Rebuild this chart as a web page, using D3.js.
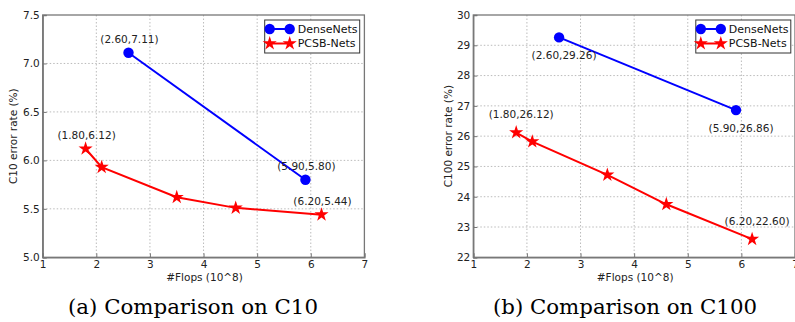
<!DOCTYPE html>
<html>
<head>
<meta charset="utf-8">
<script src="https://cdn.jsdelivr.net/npm/d3@7"></script>
<style>
  body { margin: 0; background: #fff; }
  svg { display: block; font-family: "DejaVu Sans", sans-serif; }
</style>
</head>
<body>
<div id="app"></div>
<script>
// data
const xTicks = [1, 2, 3, 4, 5, 6, 7]

const c10Dense = [[2.6, 7.11], [5.9, 5.80]]
const c10Pcsb = [[1.8, 6.12], [2.1, 5.93], [3.5, 5.62], [4.6, 5.51], [6.2, 5.44]]
const c10Ticks = [5.0, 5.5, 6.0, 6.5, 7.0, 7.5]
const c10Labels = [[2.6, 7.11], [1.8, 6.12], [5.9, 5.80], [6.2, 5.44]]

const c100Dense = [[2.6, 29.26], [5.9, 26.86]]
const c100Pcsb = [[1.8, 26.12], [2.1, 25.82], [3.5, 24.72], [4.6, 23.75], [6.2, 22.60]]
const c100Ticks = [22, 23, 24, 25, 26, 27, 28, 29, 30]
// label placement: dy offset from point (negative = above)
const c100Labels = [[2.6, 29.26, 18], [5.9, 26.86, 18], [1.8, 26.12, -18], [6.2, 22.60, -18]]

const svg = d3.select("#app").append("svg")
    .attr("width", 795)
    .attr("height", 322)

function panel(opts) {
  const g = svg.append("g").attr("transform", `translate(${opts.left},15)`)
  const w = 321.7, h = 242.3
  const x = d3.scaleLinear().domain([1, 7]).range([0, w])
  const y = d3.scaleLinear().domain(opts.yDomain).range([h, 0])

  // grid
  g.append("g")
    .selectAll("line")
    .data(xTicks.slice(1, -1))
    .join("line")
      .attr("x1", d => x(d)).attr("x2", d => x(d))
      .attr("y1", 0).attr("y2", h)
      .attr("stroke", "#bbb").attr("stroke-dasharray", "1.5,2")
  g.append("g")
    .selectAll("line")
    .data(opts.yTicks.slice(1, -1))
    .join("line")
      .attr("x1", 0).attr("x2", w)
      .attr("y1", d => y(d)).attr("y2", d => y(d))
      .attr("stroke", "#bbb").attr("stroke-dasharray", "1.5,2")

  // axes
  const xa = g.append("g").attr("transform", `translate(0,${h})`)
    .call(d3.axisBottom(x).tickValues(xTicks).tickSize(-4).tickPadding(3).tickFormat(d3.format("d")))
  const ya = g.append("g")
    .call(d3.axisLeft(y).tickValues(opts.yTicks).tickSize(-4).tickPadding(3).tickFormat(opts.fmt))
  for (const a of [xa, ya]) {
    a.select(".domain").attr("stroke", "#777").attr("stroke-width", 1.3)
    a.selectAll(".tick line").attr("stroke", "#777")
    a.selectAll("text").attr("font-size", 10.5).attr("fill", "#222")
      .attr("font-family", "DejaVu Sans")
  }
  g.append("rect").attr("width", w).attr("height", h)
    .attr("fill", "none").attr("stroke", "#777").attr("stroke-width", 1.3)

  // series
  const line = d3.line().x(d => x(d[0])).y(d => y(d[1]))
  g.append("path").datum(opts.dense).attr("d", line)
    .attr("fill", "none").attr("stroke", "blue").attr("stroke-width", 2)
  g.append("path").datum(opts.pcsb).attr("d", line)
    .attr("fill", "none").attr("stroke", "red").attr("stroke-width", 2)
  g.selectAll("path.dot").data(opts.dense).join("path")
    .attr("transform", d => `translate(${x(d[0])},${y(d[1])})`)
    .attr("d", d3.symbol(d3.symbolCircle, 85))
    .attr("fill", "blue")
  g.selectAll("path.star").data(opts.pcsb).join("path")
    .attr("transform", d => `translate(${x(d[0])},${y(d[1])})`)
    .attr("d", d3.symbol(d3.symbolStar, 62))
    .attr("fill", "red")

  // point labels
  g.selectAll("text.lab").data(opts.labels).join("text")
    .attr("x", d => x(d[0]) + opts.labDx)
    .attr("y", d => y(d[1]) + (d[2] ?? -13))
    .attr("dy", "0.35em")
    .attr("text-anchor", "middle")
    .attr("font-size", 10.5)
    .attr("fill", "#222")
    .text(d => `(${d[0].toFixed(2)},${d[1].toFixed(2)})`)

  // axis titles
  g.append("text")
    .attr("x", w / 2 + 1).attr("y", h + 20).attr("dy", "0.35em")
    .attr("text-anchor", "middle").attr("font-size", 10.5).attr("fill", "#222")
    .text("#Flops (10^8)")
  g.append("text")
    .attr("transform", `translate(${opts.ylabX},${h / 2}) rotate(-90)`)
    .attr("text-anchor", "middle").attr("dy", "0.35em")
    .attr("font-size", 10.5).attr("fill", "#222")
    .text(opts.ylabel)

  // legend
  const lg = g.append("g").attr("transform", `translate(${opts.legX},5)`)
  lg.append("rect").attr("width", 95).attr("height", 33)
    .attr("fill", "#fff").attr("stroke", "#333").attr("stroke-width", 1)
  const rows = [["DenseNets", "blue", d3.symbolCircle, 85], ["PCSB-Nets", "red", d3.symbolStar, 62]]
  rows.forEach((r, i) => {
    const yy = 9 + i * 14.5
    lg.append("line").attr("x1", 5).attr("x2", 25).attr("y1", yy).attr("y2", yy)
      .attr("stroke", r[1]).attr("stroke-width", 2)
    for (const xx of [5, 25]) {
      lg.append("path").attr("transform", `translate(${xx},${yy})`)
        .attr("d", d3.symbol(r[2], r[3])).attr("fill", r[1])
    }
    lg.append("text").attr("x", 33).attr("y", yy).attr("dy", "0.35em")
      .attr("font-size", 11).attr("fill", "#111").text(r[0])
  })

  // caption
  svg.append("text")
    .attr("x", opts.capX).attr("y", 314)
    .style("font-family", "'DejaVu Serif', 'Liberation Serif', serif")
    .attr("font-size", 21)
    .attr("fill", "#000")
    .attr("textLength", opts.capW)
    .attr("lengthAdjust", "spacingAndGlyphs")
    .text(opts.caption)
}

panel({
  left: 42.7, yDomain: [5, 7.5], yTicks: c10Ticks, fmt: d3.format(".1f"),
  dense: c10Dense, pcsb: c10Pcsb, labels: c10Labels, labDx: 1,
  ylabel: "C10 error rate (%)", ylabX: -29, legX: 222,
  caption: "(a) Comparison on C10", capX: 68, capW: 250
})
panel({
  left: 473.3, yDomain: [22, 30], yTicks: c100Ticks, fmt: d3.format("d"),
  dense: c100Dense, pcsb: c100Pcsb, labels: c100Labels, labDx: 5,
  ylabel: "C100 error rate (%)", ylabX: -25, legX: 222.5,
  caption: "(b) Comparison on C100", capX: 493, capW: 264
})
</script>
</body>
</html>
